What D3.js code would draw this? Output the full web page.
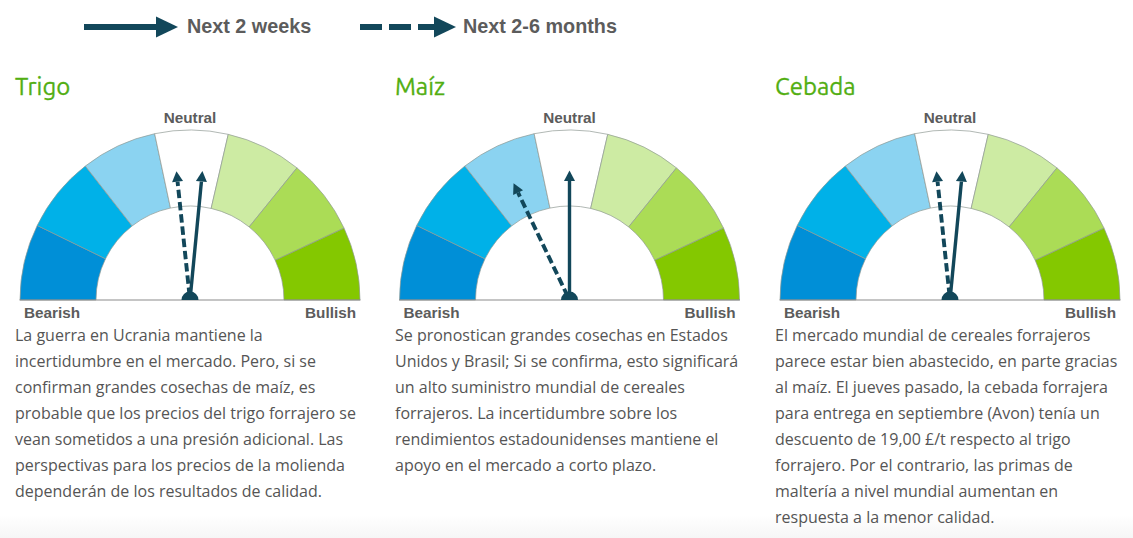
<!DOCTYPE html>
<html>
<head>
<meta charset="utf-8">
<script src="https://cdn.jsdelivr.net/npm/d3@7"></script>
<style>
  html, body { margin: 0; padding: 0; background: #fff; overflow: hidden; }
  svg { display: block; }
</style>
</head>
<body>
<script>
// gauge bands (degrees, 0 = far left, 180 = far right)
var bandEdges = [0, 26, 52, 78, 103, 129, 155, 180];
var bandColors = ['#008fd7', '#00b1e8', '#8bd3f1', '#ffffff', '#cdeba3', '#abdc56', '#84c800'];

var crops = ['Trigo', 'Maíz', 'Cebada'];
var shortTerm = [95.5, 90, 95.5];   // solid arrow, next 2 weeks
var longTerm = [84, 64.4, 84];      // dashed arrow, next 2-6 months

var legendLabels = ['Next 2 weeks', 'Next 2-6 months'];

var trigoText = [
  'La guerra en Ucrania mantiene la',
  'incertidumbre en el mercado. Pero, si se',
  'confirman grandes cosechas de maíz, es',
  'probable que los precios del trigo forrajero se',
  'vean sometidos a una presión adicional. Las',
  'perspectivas para los precios de la molienda',
  'dependerán de los resultados de calidad.'
];
var maizText = [
  'Se pronostican grandes cosechas en Estados',
  'Unidos y Brasil; Si se confirma, esto significará',
  'un alto suministro mundial de cereales',
  'forrajeros. La incertidumbre sobre los',
  'rendimientos estadounidenses mantiene el',
  'apoyo en el mercado a corto plazo.'
];
var cebadaText = [
  'El mercado mundial de cereales forrajeros',
  'parece estar bien abastecido, en parte gracias',
  'al maíz. El jueves pasado, la cebada forrajera',
  'para entrega en septiembre (Avon) tenía un',
  'descuento de 19,00 £/t respecto al trigo',
  'forrajero. Por el contrario, las primas de',
  'maltería a nivel mundial aumentan en',
  'respuesta a la menor calidad.'
];
var bodyText = [trigoText, maizText, cebadaText];

var width = 1133, height = 538;
var dark = '#12475a', grey = '#5c5c5c';
var labelFont = '"Liberation Sans", Arial, sans-serif';

var svg = d3.select('body').append('svg').attr('width', width).attr('height', height);

var defs = svg.append('defs');
var fade = defs.append('linearGradient').attr('id', 'fade').attr('x1', 0).attr('x2', 0).attr('y1', 0).attr('y2', 1);
fade.append('stop').attr('offset', 0).attr('stop-color', '#ffffff');
fade.append('stop').attr('offset', 1).attr('stop-color', '#f6f6f6');
svg.append('rect').attr('x', 0).attr('y', 515).attr('width', width).attr('height', 23).attr('fill', 'url(#fade)');

var angle = d3.scaleLinear().domain([0, 180]).range([-Math.PI / 2, Math.PI / 2]);
var arc = d3.arc().innerRadius(94).outerRadius(170);

// triangular arrow head, base centred on x,y
function arrowHead(sel, x, y, rot, len, half) {
  sel.append('path')
    .attr('d', d3.line()([[0, -len], [half, 0], [-half, 0]]) + 'Z')
    .attr('transform', 'translate(' + x + ',' + y + ') rotate(' + rot + ')')
    .attr('fill', dark);
}

function needle(g, deg, dashed) {
  var a = angle(deg);
  var neck = d3.pointRadial(a, 119), foot = d3.pointRadial(a, 4);
  var shaft = g.append('line')
    .attr('x1', foot[0]).attr('y1', foot[1])
    .attr('x2', neck[0]).attr('y2', neck[1])
    .attr('stroke', dark).attr('stroke-width', dashed ? 3.9 : 3.4);
  if (dashed) shaft.attr('stroke-dasharray', '8.5 3.8');
  arrowHead(g, neck[0], neck[1], a * 180 / Math.PI, 10.5, 5.5);
}

var centers = d3.scaleOrdinal().domain(crops).range([190, 569.5, 950]);
var lefts = d3.scaleOrdinal().domain(crops).range([15, 395, 775]);

crops.forEach(function(crop, i) {
  var cx = centers(crop), left = lefts(crop), cy = 300;

  svg.append('text').attr('x', left).attr('y', 95)
    .attr('font-family', 'Ubuntu, "Noto Sans", sans-serif').attr('font-size', 24)
    .attr('fill', '#52ae12').attr('stroke', '#52ae12').attr('stroke-width', 0.3).text(crop);

  var g = svg.append('g').attr('transform', 'translate(' + cx + ',' + cy + ')');

  g.selectAll('path.band').data(bandColors).enter().append('path')
    .attr('class', 'band')
    .attr('d', function(d, k) { return arc({ startAngle: angle(bandEdges[k]), endAngle: angle(bandEdges[k + 1]) }); })
    .attr('fill', function(d) { return d; })
    .attr('stroke', '#8f9a94').attr('stroke-width', 0.7);

  // base line + needles, hub on top
  g.append('line').attr('x1', -170.5).attr('x2', 170.5).attr('y1', 0).attr('y2', 0).attr('stroke', '#8c8c8c').attr('stroke-width', 1.2);
  needle(g, longTerm[i], true);
  needle(g, shortTerm[i], false);
  g.append('path').attr('d', d3.arc().innerRadius(0).outerRadius(8.5)({ startAngle: -Math.PI / 2, endAngle: Math.PI / 2 })).attr('fill', dark);

  var labels = svg.append('g').attr('font-family', labelFont).attr('font-weight', 'bold').attr('font-size', 15.3).attr('fill', grey);
  labels.append('text').attr('x', cx).attr('y', cy - 177).attr('text-anchor', 'middle').text('Neutral');
  labels.append('text').attr('x', cx - 166).attr('y', cy + 17.5).text('Bearish');
  labels.append('text').attr('x', cx + 166).attr('y', cy + 17.5).attr('text-anchor', 'end').text('Bullish');

  svg.append('g').selectAll('text').data(bodyText[i]).enter().append('text')
    .attr('x', left)
    .attr('y', function(d, k) { return 341 + k * 26; })
    .attr('font-family', '"Open Sans", sans-serif').attr('font-size', 16)
    .attr('fill', '#555555')
    .text(function(d) { return d; });
});

// legend at the top
var legend = svg.append('g');
[[84, 156, 187, false], [360, 434, 463, true]].forEach(function(row, i) {
  var line = legend.append('line')
    .attr('x1', row[0]).attr('x2', row[1]).attr('y1', 27).attr('y2', 27)
    .attr('stroke', dark).attr('stroke-width', 6);
  if (row[3]) line.attr('stroke-dasharray', '22 7');
  arrowHead(legend, row[1], 27, 90, 22, 10.5);
  legend.append('text').attr('x', row[2]).attr('y', 33)
    .attr('font-family', labelFont).attr('font-weight', 'bold').attr('font-size', 19.8)
    .attr('fill', grey).text(legendLabels[i]);
});
</script>
</body>
</html>
